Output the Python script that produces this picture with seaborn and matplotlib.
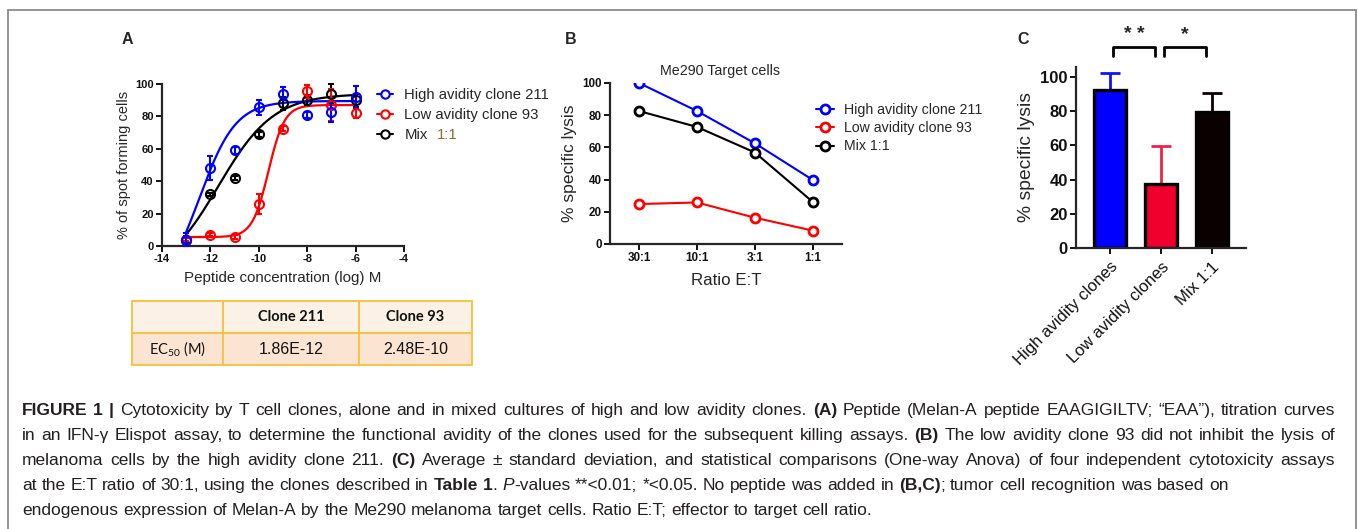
import numpy as np
import pandas as pd
import matplotlib
matplotlib.use("Agg")
import matplotlib.pyplot as plt
from matplotlib.lines import Line2D
from matplotlib.patches import Rectangle
from matplotlib.transforms import IdentityTransform
from matplotlib import font_manager
import seaborn as sns

# ---- Panel A: peptide titration, % of spot forming cells ----
log_conc = [-13, -12, -11, -10, -9, -8, -7, -6]
high_spots = [4, 48, 59, 85.5, 94, 81, 83, 92]
high_spots_err = [4, 7.5, 2, 4.5, 4, 2, 6.5, 7]
low_spots = [4, 7, 5.5, 26, 72.5, 95.5, 87, 82]
low_spots_err = [1, 1, 1, 6, 1.5, 4, 10, 3]
mix_spots = [4, 32, 42, 69, 88, 90, 94, 90]
mix_spots_err = [2, 1, 1.5, 1.5, 4, 3, 6, 4]

# fitted sigmoid curves (high, low, mix): bottom, top, logEC50, hill slope
fit_bottom = [-30, 5.5, -20]
fit_top = [89.5, 87, 94]
fit_logec50 = [-12.45, -9.6, -11.67]
fit_hill = [0.58, 1.3, 0.38]

# EC50 table under panel A
table_header = ["Clone 211", "Clone 93"]
table_row_label = "EC$_\\mathregular{50}$ (M)"
table_ec50 = ["1.86E-12", "2.48E-10"]

# ---- Panel B: Me290 target cells ----
ratios = ["30:1", "10:1", "3:1", "1:1"]
high_lysis = [100, 82.6, 62.5, 39.7]
low_lysis = [24.8, 25.8, 16.3, 8.3]
mix_lysis = [82.6, 72.7, 56.8, 26]

# ---- Panel C: average of four assays at 30:1 ----
groups = ["High avidity clones", "Low avidity clones", "Mix 1:1"]
mean_lysis = [92.2, 37.4, 79.6]
sd_lysis = [9.9, 22.3, 10.9]
signif = [(0, 1, "* *"), (1, 2, "*")]

series_names = ["High avidity clone 211", "Low avidity clone 93", "Mix 1:1"]
line_colors = ["#0000FF", "#FF0000", "#000000"]
bar_colors = ["#0000FF", "#F0002C", "#0A0000"]
err_colors = ["#1010FF", "#F0204A", "#0A0000"]

caption_lines = [
    "§FIGURE 1 |§ Cytotoxicity by T cell clones, alone and in mixed cultures of high and low avidity clones. §(A)§ Peptide (Melan-A peptide EAAGIGILTV; “EAA”), titration curves",
    "in an IFN-γ Elispot assay, to determine the functional avidity of the clones used for the subsequent killing assays. §(B)§ The low avidity clone 93 did not inhibit the lysis of",
    "melanoma cells by the high avidity clone 211. §(C)§ Average ± standard deviation, and statistical comparisons (One-way Anova) of four independent cytotoxicity assays",
    "at the E:T ratio of 30:1, using the clones described in §Table 1§. ¤P¤-values **<0.01; *<0.05. No peptide was added in §(B,C)§; tumor cell recognition was based on",
    "endogenous expression of Melan-A by the Me290 melanoma target cells. Ratio E:T; effector to target cell ratio.",
]
caption_justify = [True, True, True, False, False]

sns.set_style("ticks")
plt.rcParams["font.family"] = ["Liberation Sans", "DejaVu Sans"]
plt.rcParams["axes.unicode_minus"] = False

W, H = 1358, 529
fig = plt.figure(figsize=(W / 100, H / 100), dpi=100)
px = IdentityTransform()


def add_axes_px(left, top, right, bottom):
    return fig.add_axes([left / W, 1 - bottom / H, (right - left) / W, (bottom - top) / H])


def style_axes(ax, labelsize, bold_x=True):
    sns.despine(ax=ax)
    for s in ["left", "bottom"]:
        ax.spines[s].set_linewidth(1.6)
    ax.tick_params(width=1.4, length=4, labelsize=labelsize, pad=2, colors="#111111")
    labels = ax.get_yticklabels() + (ax.get_xticklabels() if bold_x else [])
    for lab in labels:
        lab.set_fontweight("bold")


# outer frame
frame_kw = dict(transform=px, color="#8a8a8a", lw=1.3)
fig.add_artist(Line2D([8, 1356], [H - 10, H - 10], **frame_kw))
fig.add_artist(Line2D([8, 8], [H - 10, 0], **frame_kw))
fig.add_artist(Line2D([1356, 1356], [H - 10, 0], **frame_kw))

# panel letters
for letter, x in [("A", 127), ("B", 571), ("C", 1023)]:
    fig.text(x, H - 40, letter, transform=px, fontsize=11.5, fontweight="bold",
             ha="center", va="center")

# ---------------- Panel A ----------------
axA = add_axes_px(162, 84, 404, 246)
spots = [high_spots, low_spots, mix_spots]
spots_err = [high_spots_err, low_spots_err, mix_spots_err]
xs = np.linspace(min(log_conc), max(log_conc), 300)
for i in [2, 1, 0]:
    c = line_colors[i]
    curve = fit_bottom[i] + (fit_top[i] - fit_bottom[i]) / (1 + 10 ** ((fit_logec50[i] - xs) * fit_hill[i]))
    sns.lineplot(x=xs, y=curve, color=c, lw=1.6, estimator=None, ax=axA)
    axA.errorbar(log_conc, spots[i], yerr=spots_err[i], fmt="o", ms=6.5, mfc="none",
                 mec=c, mew=1.5, ecolor=c, elinewidth=1.5, capsize=2.5, capthick=1.5,
                 clip_on=False, zorder=3)
axA.set_xlim(-14, -4)
axA.set_ylim(0, 100)
axA.set_xticks(range(-14, -3, 2))
axA.set_yticks(range(0, 101, 20))
style_axes(axA, 8)
axA.set_xlabel("Peptide concentration (log) M", fontsize=10.9, labelpad=5)
axA.set_ylabel("% of spot forming cells", fontsize=10.5, labelpad=3)

handlesA = [Line2D([], [], color=c, marker="o", ms=6, mfc="white", mec=c, mew=1.5, lw=1.5)
            for c in line_colors]
legA = axA.legend(handlesA, ["High avidity clone 211", "Low avidity clone 93", "Mix"],
                  loc="upper left", bbox_to_anchor=(377, H - 88), bbox_transform=px,
                  frameon=False, fontsize=10.7, handlelength=1.1, handletextpad=0.75,
                  labelspacing=0.42, borderpad=0, borderaxespad=0)

# ---------------- EC50 table ----------------
col_edges = [132, 223, 359, 472]
row_edges = [301, 333, 365]
row_fill = ["#FCF1E7", "#FCE4D2"]
for r in range(2):
    for c in range(3):
        x0, x1 = col_edges[c], col_edges[c + 1]
        y0, y1 = row_edges[r], row_edges[r + 1]
        fig.add_artist(Rectangle((x0, H - y1), x1 - x0, y1 - y0, transform=px,
                                 fc=row_fill[r], ec="#F6C444", lw=1.4))
for c, txt in enumerate(table_header):
    xc = (col_edges[c + 1] + col_edges[c + 2]) / 2
    fig.text(xc, H - (row_edges[0] + row_edges[1]) / 2, txt, transform=px, family="Lato",
             fontweight="bold", fontsize=10.5, ha="center", va="center", color="#111111")
    fig.text(xc, H - (row_edges[1] + row_edges[2]) / 2, table_ec50[c], transform=px,
             fontsize=11.5, ha="center", va="center", color="#111111")
fig.text((col_edges[0] + col_edges[1]) / 2, H - (row_edges[1] + row_edges[2]) / 2,
         table_row_label, transform=px, family="Lato", fontsize=10.5, ha="center",
         va="center", color="#111111")

# ---------------- Panel B ----------------
axB = add_axes_px(610, 83, 842, 244)
lysis = [high_lysis, low_lysis, mix_lysis]
for i in range(3):
    c = line_colors[i]
    sns.lineplot(x=ratios, y=lysis[i], color=c, marker="o", markersize=6.5,
                 markerfacecolor="white", markeredgecolor=c, markeredgewidth=2,
                 linewidth=1.5, sort=False, ax=axB)
axB.set_xlim(-0.5, len(ratios) - 0.5)
axB.set_ylim(0, 100)
axB.set_yticks(range(0, 101, 20))
style_axes(axB, 8.4)
axB.set_xlabel("Ratio E:T", fontsize=12.2, labelpad=6)
axB.set_ylabel("% specific lysis", fontsize=12.6, labelpad=4)
fig.text(720, H - 71, "Me290 Target cells", transform=px, fontsize=10.3,
         ha="center", va="center")
handlesB = [Line2D([], [], color=c, marker="o", ms=6.5, mfc="white", mec=c, mew=2, lw=1.5)
            for c in line_colors]
axB.legend(handlesB, series_names, loc="upper left", bbox_to_anchor=(816, H - 103),
           bbox_transform=px, frameon=False, fontsize=10.2, handlelength=1.3,
           handletextpad=0.7, labelspacing=0.3, borderpad=0, borderaxespad=0)

# ---------------- Panel C ----------------
axC = add_axes_px(1076, 67, 1246, 248)
sns.barplot(x=groups, y=mean_lysis, hue=groups, palette=bar_colors, legend=False,
            saturation=1, width=0.63, edgecolor="black", linewidth=2.4, ax=axC)
for i in range(len(groups)):
    axC.errorbar(i, mean_lysis[i], yerr=[[0], [sd_lysis[i]]], color=err_colors[i],
                 lw=2, capsize=7.5, capthick=2, zorder=0.5, clip_on=False)
axC.set_xlim(-0.67, len(groups) - 0.33)
axC.set_ylim(0, 105.8)
axC.set_yticks(range(0, 101, 20))
style_axes(axC, 12, bold_x=False)
axC.set_xticks(range(len(groups)))
axC.set_xticklabels(groups, rotation=45, ha="right", rotation_mode="anchor", fontsize=12)
axC.tick_params(axis="x", pad=4)
axC.set_ylabel("% specific lysis", fontsize=13.9, labelpad=4)
axC.set_xlabel("")
for a, b, stars in signif:
    xa, xb = a + 0.06, b - 0.12
    axC.plot([xa, xa, xb, xb], [112, 117.5, 117.5, 112], color="black", lw=2, clip_on=False)
    axC.text((xa + xb) / 2, 120, stars, ha="center", va="bottom", fontsize=14,
             fontweight="bold")

# ---------------- "1:1" in the panel A legend ----------------
renderer = fig.canvas.get_renderer()
fig.canvas.draw()
bb = legA.get_texts()[2].get_window_extent(renderer)
fig.text(bb.x1 + 9, bb.y0, "1:1", transform=px, fontsize=10.7, color="#8B6B2E",
         ha="left", va="bottom")

# ---------------- Caption (justified) ----------------
names = {f.name for f in font_manager.fontManager.ttflist}
cap_family = "Liberation Sans Narrow" if "Liberation Sans Narrow" in names else "Liberation Sans"
cap_color = "#231F20"


def parse_line(line):
    words, bold, italic = [], False, False
    for raw in line.split(" "):
        pieces, buf = [], ""
        for ch in raw:
            if ch in "§¤":
                if buf:
                    pieces.append((buf, bold, italic))
                    buf = ""
                if ch == "§":
                    bold = not bold
                else:
                    italic = not italic
            else:
                buf += ch
        if buf:
            pieces.append((buf, bold, italic))
        words.append(pieces)
    return words


def cap_text(s, b, it, fs):
    return fig.text(0, 0, s, transform=px, family=cap_family, fontsize=fs,
                    fontweight="bold" if b else "normal",
                    fontstyle="italic" if it else "normal", color=cap_color,
                    ha="left", va="baseline")


def width_of(s, fs):
    t = cap_text(s, False, False, fs)
    w = t.get_window_extent(renderer).width
    t.remove()
    return w


cap_left, cap_right = 22, 1335
w10 = width_of(caption_lines[-1], 10)
cap_fs = 10 * 849 / w10
space_w = width_of("x x", cap_fs) - width_of("xx", cap_fs)
baselines = [415, 440, 465, 490, 515]

for line, just, base in zip(caption_lines, caption_justify, baselines):
    words = parse_line(line)
    made = []
    for pieces in words:
        objs = []
        for s, b, it in pieces:
            t = cap_text(s, b, it, cap_fs)
            objs.append((t, t.get_window_extent(renderer).width))
        made.append(objs)
    word_w = [sum(w for _, w in objs) for objs in made]
    gap = space_w
    if just and len(made) > 1:
        gap = (cap_right - cap_left - sum(word_w)) / (len(made) - 1)
    x = cap_left
    for objs, ww in zip(made, word_w):
        xx = x
        for t, w in objs:
            t.set_position((xx, H - base))
            xx += w
        x += ww + gap

fig.savefig("out.png", dpi=100, facecolor="white")
